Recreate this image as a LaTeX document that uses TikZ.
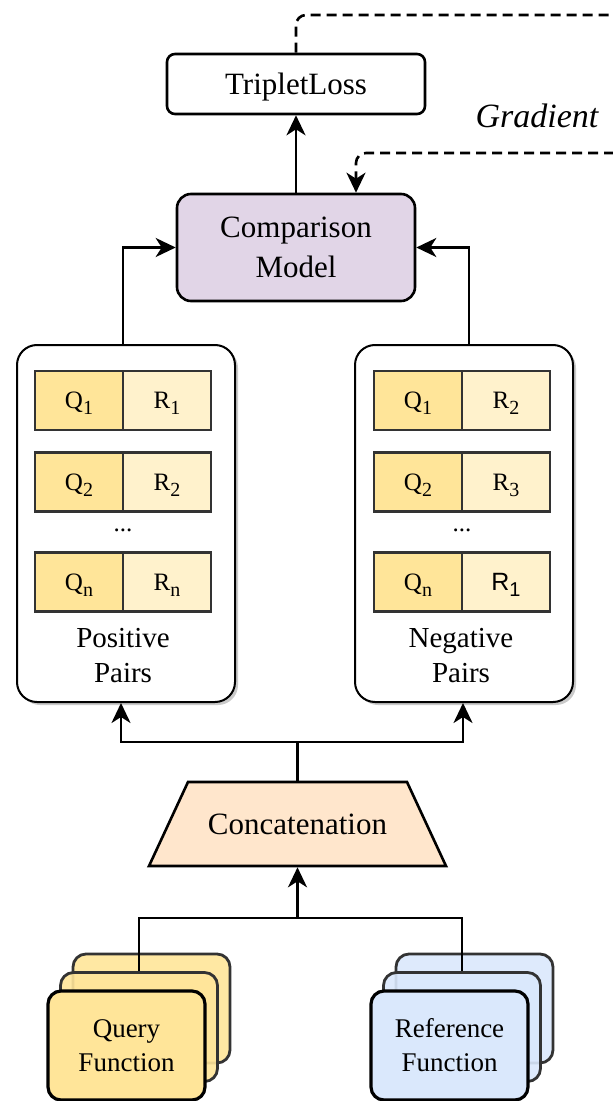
\documentclass[tikz,border=0pt]{standalone}
\usepackage{fontspec}
\setmainfont{Liberation Serif}
\newfontfamily\arialfont{Liberation Sans}
\usetikzlibrary{arrows.meta,shadows}
\newcommand{\lowsub}[1]{\raisebox{-3pt}{\fontsize{10pt}{10pt}\selectfont #1}}
\definecolor{qfill}{HTML}{FFE599}
\definecolor{rfill}{HTML}{FFF2CC}
\definecolor{cmpfill}{HTML}{E1D5E7}
\definecolor{catfill}{HTML}{FFE6CC}
\definecolor{reffill}{HTML}{DAE8FC}
\definecolor{edge}{HTML}{333333}

\begin{document}
\begin{tikzpicture}[x=0.5pt,y=-0.5pt,line width=1.3pt,
  arr/.style={-{Stealth[length=10pt,width=9.5pt,inset=3pt]}},
  dashline/.style={dash pattern=on 5pt off 3pt},
  lossbox/.style={draw, rounded corners=4pt, minimum width=129pt, minimum height=30pt,
    inner sep=0pt, text depth=0pt, font=\fontsize{15.5pt}{20pt}\selectfont},
  modelbox/.style={draw, fill=cmpfill, rounded corners=7pt, minimum width=119pt,
    minimum height=53.5pt, inner sep=0pt, align=center, font=\fontsize{15.5pt}{20pt}\selectfont},
  pairbox/.style={draw, fill=white, line width=1pt, rounded corners=10pt, minimum width=109pt,
    minimum height=178.5pt, inner sep=0pt,
    drop shadow={shadow xshift=1.5pt, shadow yshift=-1.5pt, opacity=0.35, fill=black!60}},
  qcell/.style={draw=edge, fill=qfill, line width=1.2pt, minimum width=44pt, minimum height=29.5pt,
    inner sep=0pt, text depth=0pt, font=\fontsize{12.5pt}{15pt}\selectfont},
  rcell/.style={qcell, fill=rfill},
  pairlabel/.style={align=center, inner sep=0pt, font=\fontsize{14.5pt}{17.5pt}\selectfont},
  dots/.style={inner sep=0pt, font=\fontsize{12.5pt}{15pt}\selectfont},
  catshape/.style={draw, fill=catfill},
  cattext/.style={minimum width=148.5pt, minimum height=42pt, inner sep=0pt, text depth=0pt,
    font=\fontsize{15.5pt}{20pt}\selectfont},
  funcbox/.style={draw, line width=1.6pt, rounded corners=6.5pt, minimum width=78.5pt,
    minimum height=54.5pt, inner sep=0pt, align=center, font=\fontsize{13.5pt}{17pt}\selectfont},
  stackbox/.style={funcbox, draw=edge, line width=1.4pt, fill opacity=0.9}
]
\useasboundingbox (0,0) rectangle (613,1101);

% loss and comparison model
\node[lossbox] (tl) at (296,84) {TripletLoss};
\node[modelbox] (cmp) at (296,247.5) {Comparison\\Model};
\node[font=\fontsize{17pt}{20pt}\selectfont\itshape, anchor=base, inner sep=0pt] (grad) at (537,128) {Gradient};

% positive pairs
\node[pairbox] (pos) at (126,523.5) {};
\node[qcell] (pq1) at (79,400.5) {Q\lowsub{1}};
\node[rcell] (pr1) at (167,400.5) {R\lowsub{1}};
\node[qcell] (pq2) at (79,482) {Q\lowsub{2}};
\node[rcell] (pr2) at (167,482) {R\lowsub{2}};
\node[dots] (pdots) at (123,530) {...};
\node[qcell] (pqn) at (79,582) {Q\lowsub{n}};
\node[rcell] (prn) at (167,582) {R\lowsub{n}};
\node[pairlabel] (plbl) at (123,655.5) {Positive\\Pairs};

% negative pairs
\node[pairbox] (neg) at (464,523.5) {};
\node[qcell] (nq1) at (418,400.5) {Q\lowsub{1}};
\node[rcell] (nr1) at (506,400.5) {R\lowsub{2}};
\node[qcell] (nq2) at (418,482) {Q\lowsub{2}};
\node[rcell] (nr2) at (506,482) {R\lowsub{3}};
\node[dots] (ndots) at (462,530) {...};
\node[qcell] (nqn) at (418,582) {Q\lowsub{n}};
\node[rcell] (nrn) at (506,582) {\arialfont R\raisebox{-3pt}{\fontsize{10pt}{10pt}\selectfont 1}};
\node[pairlabel] (nlbl) at (461,655.5) {Negative\\Pairs};

% concatenation trapezoid
\draw[catshape] (149,866) -- (446,866) -- (407,782) -- (188,782) -- cycle;
\node[cattext] (cat) at (297.5,824) {Concatenation};

% stacked function inputs
\node[stackbox, fill=qfill] (qback) at (151.5,1008.5) {};
\node[stackbox, fill=qfill] (qmid) at (139,1027) {};
\node[funcbox, fill=qfill] (qfront) at (126.5,1045.5) {Query\\Function};
\node[stackbox, fill=reffill] (rback) at (474.5,1008.5) {};
\node[stackbox, fill=reffill] (rmid) at (462,1027) {};
\node[funcbox, fill=reffill] (rfront) at (449.5,1045.5) {Reference\\Function};

% connectors
\coordinate (join) at (297.5,918);
\coordinate (split) at (297.5,742);
\draw (qmid.north) |- (join);
\draw (rmid.north) |- (join);
\draw[arr] (join) -- (cat.south);
\draw (cat.north) -- (split);
\draw[arr] (split) -| ([xshift=-2.5pt]pos.south);
\draw[arr] (split) -| ([xshift=-0.5pt]neg.south);
\draw[arr] ([xshift=-1.5pt]pos.north) |- (cmp.west);
\draw[arr] ([xshift=2.5pt]neg.north) |- (cmp.east);
\draw[arr] (cmp.north) -- (tl.south);

% gradient feedback
\coordinate (gtop) at (630,15);
\coordinate (gbot) at (630,153);
\draw[dashline, rounded corners=5pt] (tl.north) |- (gtop);
\draw[dashline, arr, rounded corners=5pt] (gbot) -| ([xshift=30pt]cmp.north);
\end{tikzpicture}
\end{document}
